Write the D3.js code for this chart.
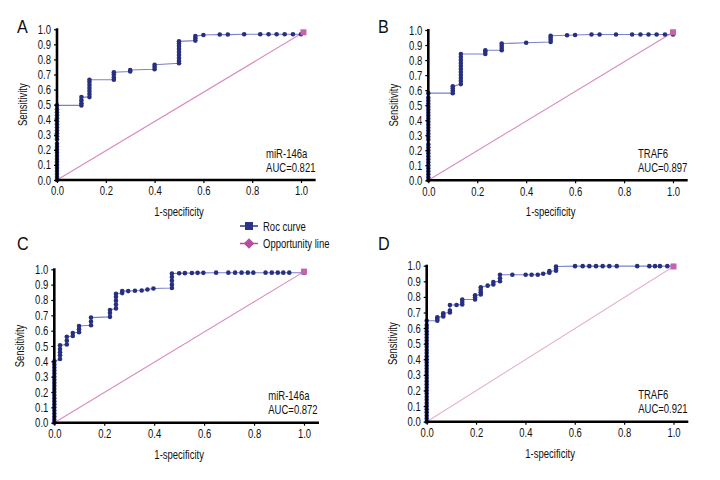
<!DOCTYPE html>
<html>
<head>
<meta charset="utf-8">
<script src="https://cdn.jsdelivr.net/npm/d3@7"></script>
<style>
  html, body { margin: 0; padding: 0; background: #fff; }
  svg text { font-family: "Liberation Sans", Arial, "DejaVu Sans", sans-serif; fill: #111; }
</style>
</head>
<body>
<svg id="chart" width="720" height="480"></svg>
<script>
// ---------------- data ----------------
const panelLabels = ["A", "B", "C", "D"];
const markerNames = ["miR-146a", "TRAF6", "miR-146a", "TRAF6"];
const aucValues = [0.821, 0.897, 0.872, 0.921];
const xTicks = [0, 0.2, 0.4, 0.6, 0.8, 1.0];
const yTicks = [0, 0.1, 0.2, 0.3, 0.4, 0.5, 0.6, 0.7, 0.8, 0.9, 1.0];
const legendLabels = ["Roc curve", "Opportunity line"];
const axisTitles = ["1-specificity", "Sensitivity"];

// ROC points [1-specificity, sensitivity]
const rocA = [
  [0,0],[0,0.02],[0,0.04],[0,0.06],[0,0.08],[0,0.1],[0,0.12],[0,0.14],[0,0.16],[0,0.18],[0,0.2],
  [0,0.22],[0,0.24],[0,0.27],[0,0.29],[0,0.31],[0,0.33],[0,0.35],[0,0.37],[0,0.39],[0,0.41],
  [0,0.43],[0,0.45],[0,0.47],[0,0.495],
  [0.1,0.495],[0.1,0.51],[0.1,0.53],[0.1,0.55],
  [0.133,0.55],[0.133,0.57],[0.133,0.59],[0.133,0.61],[0.133,0.63],[0.133,0.65],[0.133,0.665],
  [0.233,0.665],[0.233,0.68],[0.233,0.70],[0.233,0.715],
  [0.3,0.72],[0.3,0.73],
  [0.4,0.735],[0.4,0.75],[0.4,0.765],
  [0.5,0.775],[0.5,0.79],[0.5,0.81],[0.5,0.83],[0.5,0.85],[0.5,0.87],[0.5,0.89],[0.5,0.905],[0.5,0.92],
  [0.567,0.925],[0.567,0.94],[0.567,0.955],
  [0.6,0.962],[0.667,0.965],[0.7,0.965],[0.767,0.967],[0.833,0.967],[0.867,0.967],
  [0.9,0.967],[0.933,0.967],[0.967,0.967],[1.0,0.967]
];
const rocB = [
  [0,0],[0,0.02],[0,0.04],[0,0.06],[0,0.08],[0,0.1],[0,0.12],[0,0.14],[0,0.16],[0,0.18],[0,0.2],
  [0,0.22],[0,0.24],[0,0.27],[0,0.29],[0,0.31],[0,0.33],[0,0.35],[0,0.37],[0,0.39],[0,0.41],
  [0,0.43],[0,0.45],[0,0.47],[0,0.49],[0,0.51],[0,0.53],[0,0.55],[0,0.58],
  [0.1,0.58],[0.1,0.595],[0.1,0.61],[0.1,0.625],
  [0.133,0.64],[0.133,0.66],[0.133,0.68],[0.133,0.70],[0.133,0.72],[0.133,0.74],[0.133,0.76],
  [0.133,0.78],[0.133,0.80],[0.133,0.82],[0.133,0.84],
  [0.233,0.84],[0.233,0.855],[0.233,0.865],
  [0.3,0.865],[0.3,0.88],[0.3,0.895],[0.3,0.91],
  [0.4,0.915],
  [0.5,0.92],[0.5,0.935],[0.5,0.95],[0.5,0.962],
  [0.567,0.965],[0.6,0.967],[0.667,0.97],[0.7,0.97],[0.767,0.97],[0.833,0.97],[0.867,0.97],
  [0.9,0.97],[0.933,0.97],[0.967,0.97],[1.0,0.97]
];
const rocC = [
  [0,0],[0,0.02],[0,0.04],[0,0.06],[0,0.08],[0,0.1],[0,0.12],[0,0.14],[0,0.16],[0,0.18],[0,0.2],
  [0,0.22],[0,0.24],[0,0.26],[0,0.28],[0,0.30],[0,0.32],[0,0.34],[0,0.36],[0,0.38],[0,0.40],
  [0.023,0.415],[0.023,0.44],[0.023,0.46],[0.023,0.48],[0.023,0.505],
  [0.05,0.51],[0.05,0.535],[0.05,0.56],
  [0.074,0.565],[0.074,0.585],
  [0.099,0.59],[0.099,0.61],[0.099,0.63],
  [0.147,0.635],[0.147,0.66],[0.147,0.685],
  [0.223,0.69],[0.223,0.715],[0.223,0.735],
  [0.247,0.745],[0.247,0.77],[0.247,0.795],[0.247,0.82],[0.247,0.84],
  [0.272,0.845],[0.272,0.858],
  [0.296,0.858],[0.323,0.86],[0.35,0.862],[0.373,0.868],[0.397,0.875],
  [0.471,0.878],[0.471,0.90],[0.471,0.925],[0.471,0.95],[0.471,0.972],
  [0.5,0.974],[0.523,0.975],[0.551,0.976],[0.574,0.977],[0.597,0.977],
  [0.648,0.978],[0.697,0.978],[0.724,0.978],[0.75,0.978],[0.775,0.978],[0.797,0.978],
  [0.846,0.978],[0.871,0.978],[0.895,0.978],[0.917,0.978],[0.941,0.978],[1.0,0.978]
];
const rocD = [
  [0,0],[0,0.02],[0,0.04],[0,0.06],[0,0.08],[0,0.1],[0,0.12],[0,0.14],[0,0.16],[0,0.18],[0,0.2],
  [0,0.22],[0,0.24],[0,0.26],[0,0.28],[0,0.30],[0,0.32],[0,0.34],[0,0.36],[0,0.38],[0,0.40],
  [0,0.42],[0,0.44],[0,0.46],[0,0.48],[0,0.50],[0,0.52],[0,0.54],[0,0.56],[0,0.58],[0,0.60],
  [0,0.62],[0,0.647],
  [0.043,0.647],[0.043,0.658],[0.043,0.67],
  [0.067,0.675],[0.067,0.685],[0.067,0.695],
  [0.094,0.70],[0.094,0.712],[0.094,0.748],
  [0.121,0.748],
  [0.144,0.752],[0.144,0.768],[0.144,0.783],
  [0.196,0.783],[0.196,0.797],[0.196,0.81],
  [0.219,0.815],[0.219,0.83],[0.219,0.845],[0.219,0.862],
  [0.247,0.872],[0.27,0.88],[0.27,0.895],
  [0.297,0.90],[0.297,0.92],[0.297,0.942],
  [0.347,0.942],[0.401,0.942],[0.425,0.942],[0.45,0.942],[0.472,0.948],
  [0.497,0.955],[0.497,0.965],
  [0.524,0.968],[0.524,0.98],[0.524,0.995],
  [0.601,0.997],[0.632,0.997],[0.659,0.997],[0.686,0.997],[0.713,0.997],[0.740,0.997],[0.770,0.997],
  [0.853,0.997],[0.902,0.997],[0.925,0.997],[0.945,0.997],[0.975,0.997],[1.0,0.997]
];
const rocSeries = [rocA, rocB, rocC, rocD];
// opportunity (reference) line: start and end points
const opportunityA = [[0,0],[1.01,0.98]];
const opportunityB = [[0,0],[1.0,0.985]];
const opportunityC = [[0,0],[1.0,0.985]];
const opportunityD = [[0,0],[1.0,0.995]];
const opportunitySeries = [opportunityA, opportunityB, opportunityC, opportunityD];

// ---------------- layout ----------------
const frames = [
  {x0: 57,    x1: 301,   y0: 180,   y1: 29.3,  lx: 17,  ly: 33.3},
  {x0: 428.3, x1: 673,   y0: 180.3, y1: 30,    lx: 378, ly: 33.3},
  {x0: 54.3,  x1: 304,   y0: 422.7, y1: 269.3, lx: 17,  ly: 250.3},
  {x0: 426.7, x1: 673.5, y0: 421.7, y1: 265.7, lx: 378, ly: 250.3}
];
const SX = 0.76; // condensed look
const FS = 12.5;
const rocLineColor = "#7c80c8";
const rocDotColor = "#27307f";
const diagColors = ["#d98bbd", "#d98bbd", "#d98bbd", "#e9aed0"];
const endColor = "#c763ad";
const legendDiamond = "#b44fa0";

const svg = d3.select("#chart");

function label(g, x, y, str, size, anchor, rot) {
  return g.append("text")
    .attr("transform", `translate(${x},${y})` + (rot ? ` rotate(${rot})` : "") + ` scale(${SX},1)`)
    .attr("text-anchor", anchor || "start")
    .attr("font-size", size)
    .text(str);
}
function condenseTicks(sel) {
  sel.selectAll(".tick text").each(function () {
    const t = d3.select(this);
    const tx = +t.attr("x") || 0;
    t.attr("x", 0).attr("transform", `translate(${tx},0) scale(${SX},1)`)
      .attr("font-size", FS).attr("fill", "#111")
      .style("font-family", '"Liberation Sans", Arial, sans-serif');
  });
}

frames.forEach((f, i) => {
  const x = d3.scaleLinear().domain([0, 1]).range([f.x0, f.x1]);
  const y = d3.scaleLinear().domain([0, 1]).range([f.y0, f.y1]);
  const g = svg.append("g");

  // diagonal (opportunity line)
  g.append("path")
    .datum(opportunitySeries[i])
    .attr("d", d3.line().x(d => x(d[0])).y(d => y(d[1])))
    .attr("fill", "none").attr("stroke", diagColors[i]).attr("stroke-width", 1.1);

  // ROC line
  g.append("path")
    .datum(rocSeries[i])
    .attr("d", d3.line().x(d => x(d[0])).y(d => y(d[1])))
    .attr("fill", "none").attr("stroke", rocLineColor).attr("stroke-width", 1.1);

  // ROC dots
  g.selectAll("circle.roc").data(rocSeries[i]).enter().append("circle")
    .attr("class", "roc")
    .attr("cx", d => x(d[0])).attr("cy", d => y(d[1]))
    .attr("r", 2.3).attr("fill", rocDotColor);

  // x axis
  const xa = g.append("g").attr("transform", `translate(0,${f.y0})`)
    .call(d3.axisBottom(x).tickValues(xTicks).tickSize(3).tickPadding(3.5).tickFormat(d3.format(".1f")));
  xa.select(".domain").remove();
  xa.selectAll(".tick line").attr("stroke", "#000").attr("stroke-width", 1.2);
  condenseTicks(xa);
  g.append("line")
    .attr("x1", x(0) - 1.5).attr("x2", x(1.06))
    .attr("y1", f.y0).attr("y2", f.y0)
    .attr("stroke", "#000").attr("stroke-width", 2.6);

  // y axis
  const ya = g.append("g").attr("transform", `translate(${f.x0},0)`)
    .call(d3.axisLeft(y).tickValues(yTicks).tickSize(3).tickPadding(3).tickFormat(d3.format(".1f")));
  ya.select(".domain").remove();
  ya.selectAll(".tick line").attr("stroke", "#000").attr("stroke-width", 1.2);
  condenseTicks(ya);
  g.append("line")
    .attr("x1", f.x0).attr("x2", f.x0)
    .attr("y1", f.y0 + 1.3).attr("y2", y(1.0) - 1)
    .attr("stroke", "#000").attr("stroke-width", 2.6);

  // end marker
  const end = opportunitySeries[i][1];
  g.append("rect")
    .attr("x", x(end[0]) - 3).attr("y", y(end[1]) - 3)
    .attr("width", 6).attr("height", 6).attr("fill", endColor);

  // axis titles
  label(g, (f.x0 + f.x1) / 2, f.y0 + 36, axisTitles[0], FS, "middle");
  label(g, f.x0 - 30, (f.y0 + f.y1) / 2, axisTitles[1], FS, "middle", -90);

  // annotation
  const ax = f.x0 + 0.857 * (f.x1 - f.x0);
  label(g, ax, f.y0 - 22.5, markerNames[i], FS);
  label(g, ax, f.y0 - 8.5, "AUC=" + aucValues[i].toFixed(3), FS);

  // panel letter
  label(g, f.lx, f.ly, panelLabels[i], 19).attr("transform", `translate(${f.lx},${f.ly}) scale(0.85,1)`);
});

// legend
const lg = svg.append("g");
lg.append("line").attr("x1", 240).attr("x2", 258).attr("y1", 226).attr("y2", 226)
  .attr("stroke", "#2b3585").attr("stroke-width", 1.5);
lg.append("rect").attr("x", 245).attr("y", 222).attr("width", 8).attr("height", 8).attr("fill", "#2b3585");
lg.append("line").attr("x1", 240).attr("x2", 258).attr("y1", 243.5).attr("y2", 243.5)
  .attr("stroke", legendDiamond).attr("stroke-width", 1.5);
lg.append("path").attr("d", d3.symbol(d3.symbolDiamond2, 70)())
  .attr("transform", "translate(249,243.5)").attr("fill", legendDiamond);
label(lg, 263, 230.5, legendLabels[0], FS);
label(lg, 263, 248, legendLabels[1], FS);
</script>
</body>
</html>
